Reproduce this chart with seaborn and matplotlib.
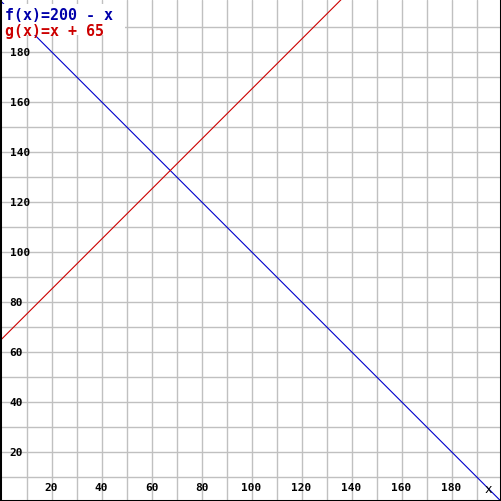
import numpy as np
import pandas as pd
import matplotlib
matplotlib.use("Agg")
import matplotlib.pyplot as plt
from matplotlib.patches import Rectangle
import seaborn as sns

# data
x_vals = [0, 200]
f_vals = [200, 0]      # f(x) = 200 - x
g_vals = [65, 265]     # g(x) = x + 65
tick_vals = [20, 40, 60, 80, 100, 120, 140, 160, 180]
grid_vals = list(range(10, 200, 10))
labels = ["f(x)=200 - x", "g(x)=x + 65"]

blue = "#0000cc"
red = "#cc0000"

sns.set_style("white")
plt.rcParams['font.family'] = ['DejaVu Sans Mono', 'DejaVu Sans']

fig = plt.figure(figsize=(5.01, 5.01), dpi=100)
ax = fig.add_axes([0, 0, 1, 1])

d = pd.DataFrame({"x": x_vals + x_vals,
                  "y": f_vals + g_vals,
                  "fn": [labels[0]] * 2 + [labels[1]] * 2})
sns.lineplot(data=d, x="x", y="y", hue="fn", palette=[blue, red],
             linewidth=0.8, legend=False, ax=ax, zorder=3)

ax.set_xlim(-0.6, 199.8)
ax.set_ylim(0.3, 200.7)

ax.set_xticks(tick_vals)
ax.set_yticks(tick_vals)
ax.set_xticks(grid_vals, minor=True)
ax.set_yticks(grid_vals, minor=True)
ax.grid(True, which="both", color="#c0c0c0", linewidth=1.0, zorder=0)
ax.set_axisbelow(True)

ax.tick_params(which="major", direction="in", length=5, width=1.2, color="black",
               labelsize=8, labelcolor="black")
ax.tick_params(which="minor", length=0)
ax.tick_params(axis="y", pad=-7)
ax.tick_params(axis="x", pad=-6)
for lbl in ax.get_yticklabels():
    lbl.set_horizontalalignment("left")
    lbl.set_fontweight("bold")
for lbl in ax.get_xticklabels():
    lbl.set_verticalalignment("bottom")
    lbl.set_fontweight("bold")

ax.set_xlabel("")
ax.set_ylabel("")

for side in ["left", "bottom", "right"]:
    ax.spines[side].set_visible(True)
    ax.spines[side].set_color("black")
    ax.spines[side].set_linewidth(2.2)
    ax.spines[side].set_zorder(6)
ax.spines["top"].set_visible(False)

# white box behind the function labels
ax.add_patch(Rectangle((0, 0.930), 0.25, 0.062, transform=ax.transAxes,
                       facecolor="white", edgecolor="none", zorder=4))
ax.text(0.009, 0.985, labels[0], transform=ax.transAxes, color="#0000aa",
        fontsize=10.8, fontweight="bold", ha="left", va="top", zorder=5)
ax.text(0.009, 0.953, labels[1], transform=ax.transAxes, color=red,
        fontsize=10.8, fontweight="bold", ha="left", va="top", zorder=5)
ax.text(0.975, 0.022, "x", transform=ax.transAxes, color="black",
        fontsize=9, ha="center", va="center")

fig.savefig("out.png", dpi=100)
